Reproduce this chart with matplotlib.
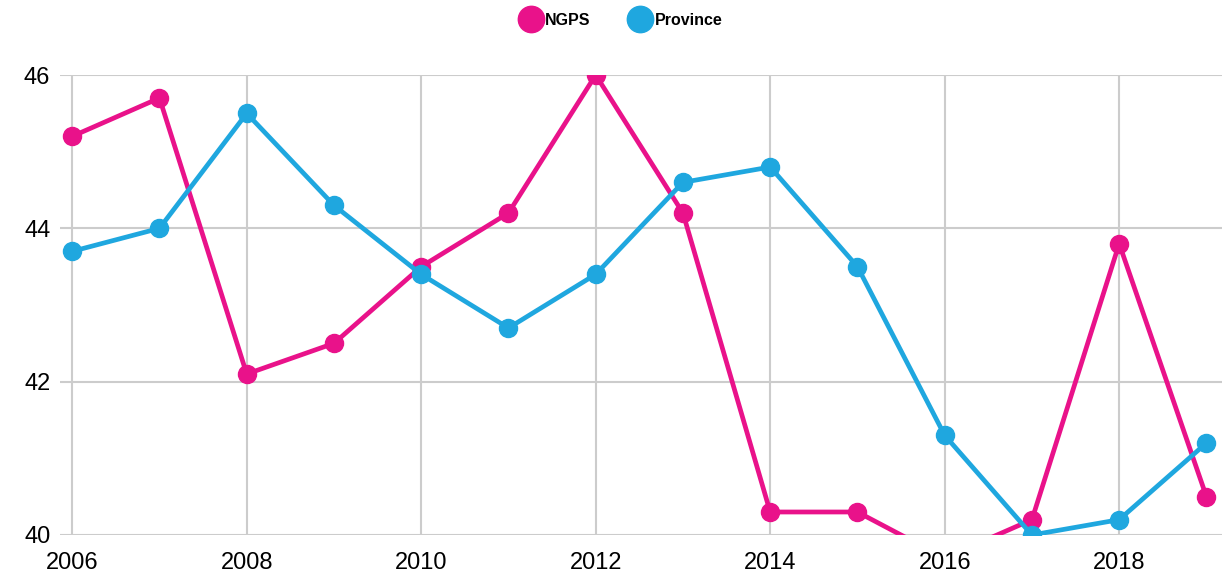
import matplotlib
matplotlib.use("Agg")
import matplotlib.pyplot as plt
from matplotlib.lines import Line2D

years = [2006, 2007, 2008, 2009, 2010, 2011, 2012, 2013, 2014, 2015, 2016, 2017, 2018, 2019]
ngps = [45.2, 45.7, 42.1, 42.5, 43.5, 44.2, 46.0, 44.2, 40.3, 40.3, 39.7, 40.2, 43.8, 40.5]
province = [43.7, 44.0, 45.5, 44.3, 43.4, 42.7, 43.4, 44.6, 44.8, 43.5, 41.3, 40.0, 40.2, 41.2]
series_names = ["NGPS", "Province"]
x_ticks = [2006, 2008, 2010, 2012, 2014, 2016, 2018]
y_ticks = [40, 42, 44, 46]

pink = "#E9128A"
blue = "#1FA7DF"

plt.rcParams['font.family'] = ['Liberation Sans', 'DejaVu Sans']

fig = plt.figure(figsize=(12.32, 5.77), dpi=100)
ax = fig.add_axes([0.0487, 0.0728, 0.9433, 0.7972])

for vals, c in [(ngps, pink), (province, blue)]:
    ax.plot(years, vals, color=c, linewidth=3.4, marker='o', markersize=13,
            solid_joinstyle='round', zorder=3, clip_on=True)

ax.set_xlim(2005.86, 2019.18)
ax.set_ylim(40, 46)
ax.set_xticks(x_ticks)
ax.set_yticks(y_ticks)
ax.set_xticklabels([str(t) for t in x_ticks], fontsize=17)
ax.set_yticklabels([str(t) for t in y_ticks], fontsize=17)
ax.grid(True, color="#cccccc", linewidth=1.5)
ax.set_axisbelow(True)
for s in ax.spines.values():
    s.set_visible(False)
ax.tick_params(axis='x', length=0, pad=12)
ax.tick_params(axis='y', length=0, pad=7)

handles = [Line2D([], [], color=c, marker='o', linestyle='none', markersize=19)
           for c in (pink, blue)]
fig.legend(handles, series_names, loc='center', bbox_to_anchor=(0.502, 0.965),
           ncol=2, frameon=False, handletextpad=-0.1, columnspacing=2.1,
           prop={'weight': 'bold', 'size': 11.5})

fig.savefig("out.png", dpi=100)
